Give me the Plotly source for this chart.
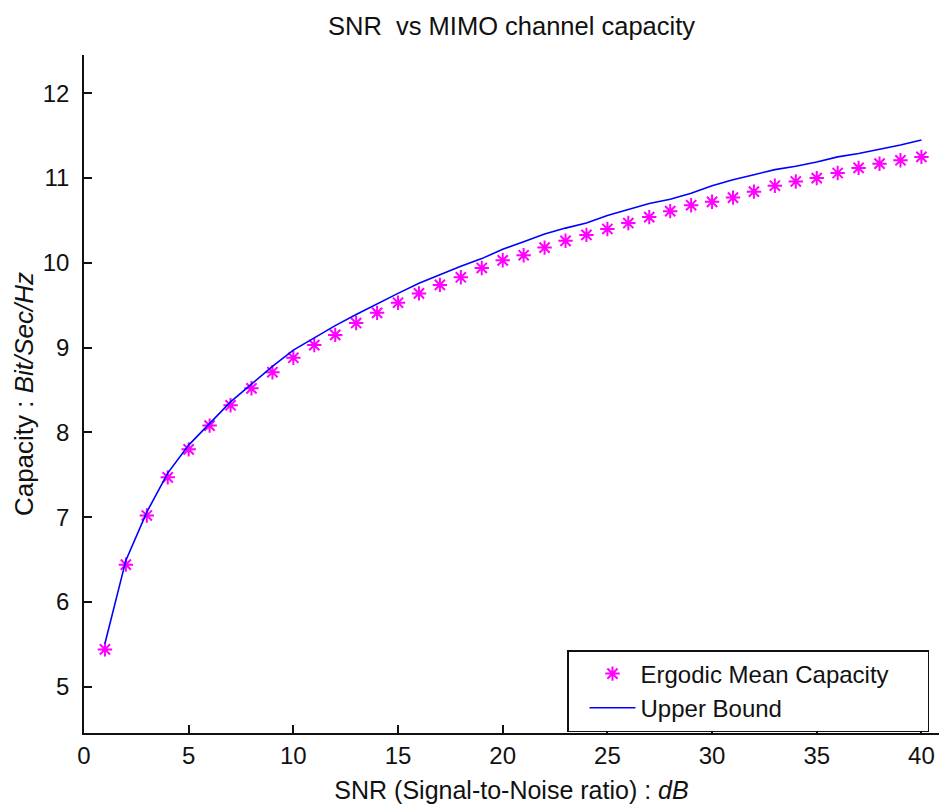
import plotly.graph_objects as go

snr_db = list(range(1, 41))
ergodic_mean = [5.44, 6.44, 7.02, 7.47, 7.80, 8.08, 8.32, 8.52, 8.71, 8.88,
                9.03, 9.15, 9.29, 9.41, 9.53, 9.64, 9.74, 9.83, 9.94, 10.03,
                10.09, 10.18, 10.26, 10.33, 10.40, 10.47, 10.54, 10.61, 10.68, 10.72,
                10.77, 10.84, 10.91, 10.96, 11.00, 11.06, 11.12, 11.17, 11.21, 11.25]
upper_bound = [5.51, 6.49, 7.06, 7.52, 7.85, 8.11, 8.36, 8.57, 8.78, 8.97,
               9.12, 9.26, 9.39, 9.52, 9.64, 9.76, 9.86, 9.96, 10.05, 10.16,
               10.25, 10.34, 10.41, 10.47, 10.56, 10.63, 10.70, 10.75, 10.82, 10.91,
               10.98, 11.04, 11.10, 11.14, 11.19, 11.25, 11.29, 11.34, 11.39, 11.45]
x_ticks = [0, 5, 10, 15, 20, 25, 30, 35, 40]
y_ticks = [5, 6, 7, 8, 9, 10, 11, 12]

FONT = "Liberation Sans, Arial, sans-serif"

fig = go.Figure()
fig.add_trace(go.Scatter(
    x=snr_db, y=ergodic_mean, mode="markers",
    name="Ergodic Mean Capacity\u00a0\u00a0\u00a0\u00a0\u00a0",
    marker=dict(symbol="asterisk-open", size=12, color="#FF00FF",
                line=dict(color="#FF00FF", width=2)),
))
fig.add_trace(go.Scatter(
    x=snr_db, y=upper_bound, mode="lines", name="Upper Bound",
    line=dict(color="#0000FF", width=1.6),
))

fig.update_layout(
    width=939, height=805,
    margin=dict(l=84, r=0, t=55, b=72),
    paper_bgcolor="white", plot_bgcolor="white",
    font=dict(family=FONT, size=24, color="#111111"),
    title=dict(text="SNR  vs MIMO channel capacity", x=0.5, xref="paper",
               xanchor="center", y=1 - 26 / 805, yanchor="middle",
               font=dict(family=FONT, size=25.5, color="#111111")),
    showlegend=True,
    legend=dict(x=(929 - 84) / 855, xanchor="right", y=(733 - 650) / 678, yanchor="top",
                bgcolor="white", bordercolor="#111111", borderwidth=1.5,
                font=dict(family=FONT, size=24, color="#111111"),
                tracegroupgap=0, itemwidth=46, indentation=16),
    xaxis=dict(range=[0, 40.84], tickvals=x_ticks, ticks="inside", ticklen=8,
               tickwidth=1.5, tickcolor="#111111", showline=True, linecolor="#111111",
               linewidth=1.5, showgrid=False, zeroline=False, ticklabelstandoff=0,
               title=dict(text="SNR (Signal-to-Noise ratio) : <i>dB</i>", standoff=14,
                          font=dict(family=FONT, size=25))),
    yaxis=dict(range=[4.454, 12.452], tickvals=y_ticks, ticks="inside", ticklen=8,
               tickwidth=1.5, tickcolor="#111111", showline=True, linecolor="#111111",
               linewidth=1.5, showgrid=False, zeroline=False, ticklabelstandoff=8,
               title=dict(text="Capacity : <i>Bit/Sec/Hz</i>", standoff=2,
                          font=dict(family=FONT, size=26))),
)

fig.write_html("out.html")
